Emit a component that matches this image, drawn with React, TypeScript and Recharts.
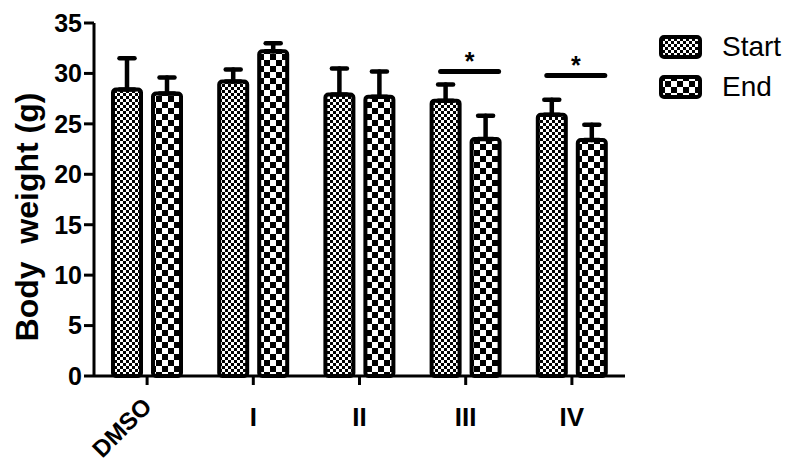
import { BarChart, Bar, XAxis, YAxis, ErrorBar, Rectangle } from "recharts";

// body weight per group (mean and upper error)
const groups = ["DMSO", "I", "II", "III", "IV"];
const startMean = [28.4, 29.2, 27.9, 27.3, 25.9];
const startErr = [3.1, 1.2, 2.6, 1.6, 1.5];
const endMean = [28.0, 32.2, 27.7, 23.5, 23.4];
const endErr = [1.6, 0.8, 2.5, 2.3, 1.5];
// height of the significance bar over a group (null = none)
const sigLevel = [null, null, null, 30.2, 29.8];
const yTicks = [0, 5, 10, 15, 20, 25, 30, 35];
const seriesNames = ["Start", "End"];

const FONT = "'Liberation Sans', Arial, Helvetica, sans-serif";

const data = groups.map((g, i) => ({
  group: g,
  start: startMean[i],
  end: endMean[i],
  startErr: [0, startErr[i]],
  endErr: [0, endErr[i]],
  sig: sigLevel[i],
}));

function Checker({ id, cell }: { id: string; cell: number }) {
  return (
    <pattern id={id} width={cell * 2} height={cell * 2} patternUnits="userSpaceOnUse">
      <rect width={cell * 2} height={cell * 2} fill="#fff" />
      <rect width={cell} height={cell} fill="#000" />
      <rect x={cell} y={cell} width={cell} height={cell} fill="#000" />
    </pattern>
  );
}

function GroupTick({ x, y, payload }: any) {
  const style = { fontFamily: FONT, fontSize: 26, fontWeight: "bold" as const, fill: "#000" };
  if (payload.value === "DMSO") {
    const ax = x + 6;
    const ay = y;
    return (
      <text x={ax} y={ay} transform={`rotate(-45, ${ax}, ${ay})`} textAnchor="end" {...style} fontSize={24}>
        {payload.value}
      </text>
    );
  }
  return (
    <text x={x} y={y} dy="0.71em" textAnchor="middle" {...style}>
      {payload.value}
    </text>
  );
}

function YLabel() {
  return (
    <text
      x={38}
      y={217}
      transform="rotate(-90, 38, 217)"
      textAnchor="middle"
      fontFamily={FONT}
      fontSize={32}
      fontWeight="bold"
      fill="#000"
    >
      {"Body\u00A0\u00A0weight (g)"}
    </text>
  );
}

// end bar + significance bar/star drawn from the bar's own geometry
function EndShape(props: any) {
  const { x, y, width, height, payload } = props;
  let sig = null;
  if (payload && payload.sig != null && height > 0) {
    const base = y + height;
    const ly = base - (payload.sig * height) / payload.end;
    const x1 = x - 31;
    const x2 = x + width - 1;
    sig = (
      <g>
        <line x1={x1} y1={ly} x2={x2} y2={ly} stroke="#000" strokeWidth={5} strokeLinecap="round" />
        <text
          x={(x1 + x2) / 2}
          y={ly - 1}
          textAnchor="middle"
          fontFamily={FONT}
          fontSize={25}
          fontWeight="bold"
          fill="#000"
        >
          *
        </text>
      </g>
    );
  }
  return (
    <g>
      <Rectangle x={x} y={y} width={width} height={height} radius={3} fill="url(#pEnd)" stroke="#000" strokeWidth={4} />
      {sig}
    </g>
  );
}

function LegendBox({ id, cell }: { id: string; cell: number }) {
  return (
    <svg width={43} height={24} style={{ display: "block" }}>
      <defs>
        <Checker id={id} cell={cell} />
      </defs>
      <rect x={2} y={2} width={39} height={20} rx={3} fill={`url(#${id})`} stroke="#000" strokeWidth={4} />
    </svg>
  );
}

export default function App() {
  const cells = [3, 6];
  return (
    <div style={{ position: "absolute", left: 0, top: 0, width: 787, height: 466, background: "#fff" }}>
      <BarChart
        width={787}
        height={466}
        data={data}
        margin={{ top: 23, right: 162, left: 0, bottom: 0 }}
        barGap={12}
        barSize={28}
      >
        <defs>
          <Checker id="pStart" cell={3} />
          <Checker id="pEnd" cell={6} />
        </defs>
        <XAxis
          dataKey="group"
          height={90}
          interval={0}
          axisLine={{ stroke: "#000", strokeWidth: 3 }}
          tickLine={{ stroke: "#000", strokeWidth: 3 }}
          tickSize={9}
          tickMargin={23}
          tick={<GroupTick />}
        />
        <YAxis
          domain={[0, 35]}
          ticks={yTicks}
          interval={0}
          width={94}
          axisLine={{ stroke: "#000", strokeWidth: 3 }}
          tickLine={{ stroke: "#000", strokeWidth: 3 }}
          tickSize={10}
          tickMargin={2}
          tick={{ fill: "#000", fontSize: 25, fontWeight: "bold", fontFamily: FONT }}
          label={<YLabel />}
        />
        <Bar
          dataKey="start"
          name={seriesNames[0]}
          fill="url(#pStart)"
          stroke="#000"
          strokeWidth={4}
          radius={3}
          isAnimationActive={false}
        >
          <ErrorBar
            dataKey="startErr"
            direction="y"
            width={7.5}
            stroke="#000"
            strokeWidth={4.5}
            strokeLinecap="round"
            isAnimationActive={false}
          />
        </Bar>
        <Bar
          dataKey="end"
          name={seriesNames[1]}
          fill="url(#pEnd)"
          stroke="#000"
          strokeWidth={4}
          radius={3}
          shape={<EndShape />}
          isAnimationActive={false}
        >
          <ErrorBar
            dataKey="endErr"
            direction="y"
            width={7.5}
            stroke="#000"
            strokeWidth={4.5}
            strokeLinecap="round"
            isAnimationActive={false}
          />
        </Bar>
      </BarChart>
      <div style={{ position: "absolute", left: 659, top: 35 }}>
        {seriesNames.map((n, i) => (
          <div key={n} style={{ display: "flex", alignItems: "center", height: 24, marginBottom: 16 }}>
            <LegendBox id={`lg${i}`} cell={cells[i]} />
            <span style={{ marginLeft: 20, fontFamily: FONT, fontSize: 28, color: "#000", lineHeight: "24px" }}>{n}</span>
          </div>
        ))}
      </div>
    </div>
  );
}
